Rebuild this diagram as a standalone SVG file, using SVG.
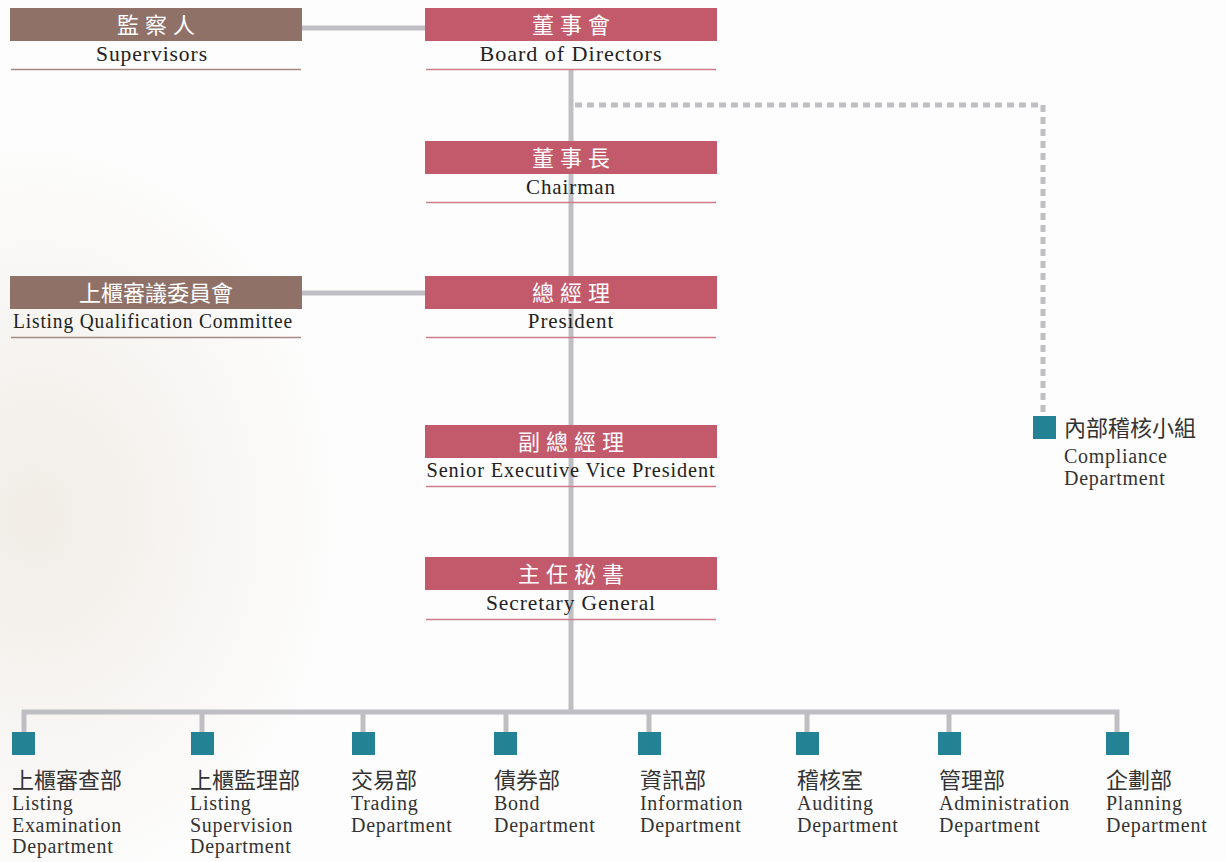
<svg xmlns="http://www.w3.org/2000/svg" width="1226" height="862" viewBox="0 0 1226 862">
<defs>
<radialGradient id="bg" cx="0.05" cy="0.6" r="0.45">
<stop offset="0" stop-color="#f1ece6"/>
<stop offset="0.5" stop-color="#f7f5f2"/>
<stop offset="1" stop-color="#fdfdfd"/>
</radialGradient>
<style>
.pk{fill:#c25a6c}
.br{fill:#8f7168}
.ulp{stroke:#d07c8a;stroke-width:1.5}
.ulb{stroke:#a78a82;stroke-width:1.5}
.zh{font-family:"Noto Sans CJK TC","Noto Sans CJK SC",serif;font-size:22px;fill:#ffffff;text-anchor:middle;letter-spacing:6px}
.zh2{font-family:"Noto Sans CJK TC","Noto Sans CJK SC",serif;font-size:22px;fill:#ffffff;text-anchor:middle}
.en{font-family:"Liberation Serif",serif;font-size:21px;fill:#222;text-anchor:middle;letter-spacing:0.9px}
.dz{font-family:"Noto Sans CJK TC","Noto Sans CJK SC",serif;font-size:22px;fill:#333}
.de{font-family:"Liberation Serif",serif;font-size:20px;fill:#333;letter-spacing:0.7px}
.sq{fill:#238293}
.ln{stroke:#bfbfc3;stroke-width:5;fill:none}
</style>
</defs>
<rect width="1226" height="862" fill="#fdfdfd"/>
<rect width="700" height="862" fill="url(#bg)"/>
<g id="connectors">
<path class="ln" d="M302 28H425"/>
<path class="ln" d="M302 293H425"/>
<path class="ln" d="M571 70V712"/>
<path class="ln" d="M24 732V712H1117V732"/>
<path class="ln" d="M202 712V732M363 712V732M506 712V732M649 712V732M807 712V732M949 712V732"/>
<path class="ln" d="M575 105H1043V416" stroke-dasharray="7 5"/>
</g>
<g id="supervisors">
<rect class="br" x="10" y="8" width="292" height="33"/>
<text class="zh" x="159" y="33">監察人</text>
<text class="en" x="152" y="61" textLength="112" lengthAdjust="spacingAndGlyphs">Supervisors</text>
<line class="ulb" x1="11" y1="69.5" x2="301" y2="69.5"/>
</g>
<g id="board">
<rect class="pk" x="425" y="8" width="292" height="33"/>
<text class="zh" x="574" y="33">董事會</text>
<text class="en" x="571" y="61" textLength="183" lengthAdjust="spacingAndGlyphs">Board of Directors</text>
<line class="ulp" x1="426" y1="69.5" x2="716" y2="69.5"/>
</g>
<g id="chairman">
<rect class="pk" x="425" y="141" width="292" height="33"/>
<text class="zh" x="574" y="166">董事長</text>
<text class="en" x="571" y="194">Chairman</text>
<line class="ulp" x1="426" y1="202.5" x2="716" y2="202.5"/>
</g>
<g id="lqc">
<rect class="br" x="10" y="276" width="292" height="33"/>
<text class="zh2" x="156" y="301">上櫃審議委員會</text>
<text class="en" x="153" y="328" textLength="280" lengthAdjust="spacingAndGlyphs">Listing Qualification Committee</text>
<line class="ulb" x1="11" y1="337.5" x2="301" y2="337.5"/>
</g>
<g id="president">
<rect class="pk" x="425" y="276" width="292" height="33"/>
<text class="zh" x="574" y="301">總經理</text>
<text class="en" x="571" y="328">President</text>
<line class="ulp" x1="426" y1="337.5" x2="716" y2="337.5"/>
</g>
<g id="svp">
<rect class="pk" x="425" y="425" width="292" height="33"/>
<text class="zh" x="574" y="450">副總經理</text>
<text class="en" x="571" y="477" textLength="289" lengthAdjust="spacingAndGlyphs">Senior Executive Vice President</text>
<line class="ulp" x1="426" y1="486.5" x2="716" y2="486.5"/>
</g>
<g id="secretary">
<rect class="pk" x="425" y="557" width="292" height="33"/>
<text class="zh" x="574" y="582">主任秘書</text>
<text class="en" x="571" y="610" textLength="170" lengthAdjust="spacingAndGlyphs">Secretary General</text>
<line class="ulp" x1="426" y1="619.5" x2="716" y2="619.5"/>
</g>
<g id="compliance">
<rect class="sq" x="1033" y="416" width="23" height="23"/>
<text class="dz" x="1064" y="436">內部稽核小組</text>
<text class="de" x="1064" y="463">Compliance</text>
<text class="de" x="1064" y="485">Department</text>
</g>
<g id="dept-listing-exam">
<rect class="sq" x="12" y="732" width="23" height="23"/>
<text class="dz" x="12" y="788">上櫃審查部</text>
<text class="de" x="12" y="810">Listing</text>
<text class="de" x="12" y="832">Examination</text>
<text class="de" x="12" y="853">Department</text>
</g>
<g id="dept-listing-sup">
<rect class="sq" x="191" y="732" width="23" height="23"/>
<text class="dz" x="190" y="788">上櫃監理部</text>
<text class="de" x="190" y="810">Listing</text>
<text class="de" x="190" y="832">Supervision</text>
<text class="de" x="190" y="853">Department</text>
</g>
<g id="dept-trading">
<rect class="sq" x="352" y="732" width="23" height="23"/>
<text class="dz" x="351" y="788">交易部</text>
<text class="de" x="351" y="810">Trading</text>
<text class="de" x="351" y="832">Department</text>
</g>
<g id="dept-bond">
<rect class="sq" x="494" y="732" width="23" height="23"/>
<text class="dz" x="494" y="788">債券部</text>
<text class="de" x="494" y="810">Bond</text>
<text class="de" x="494" y="832">Department</text>
</g>
<g id="dept-info">
<rect class="sq" x="638" y="732" width="23" height="23"/>
<text class="dz" x="640" y="788">資訊部</text>
<text class="de" x="640" y="810">Information</text>
<text class="de" x="640" y="832">Department</text>
</g>
<g id="dept-audit">
<rect class="sq" x="796" y="732" width="23" height="23"/>
<text class="dz" x="797" y="788">稽核室</text>
<text class="de" x="797" y="810">Auditing</text>
<text class="de" x="797" y="832">Department</text>
</g>
<g id="dept-admin">
<rect class="sq" x="938" y="732" width="23" height="23"/>
<text class="dz" x="939" y="788">管理部</text>
<text class="de" x="939" y="810">Administration</text>
<text class="de" x="939" y="832">Department</text>
</g>
<g id="dept-planning">
<rect class="sq" x="1106" y="732" width="23" height="23"/>
<text class="dz" x="1106" y="788">企劃部</text>
<text class="de" x="1106" y="810">Planning</text>
<text class="de" x="1106" y="832">Department</text>
</g>
</svg>
